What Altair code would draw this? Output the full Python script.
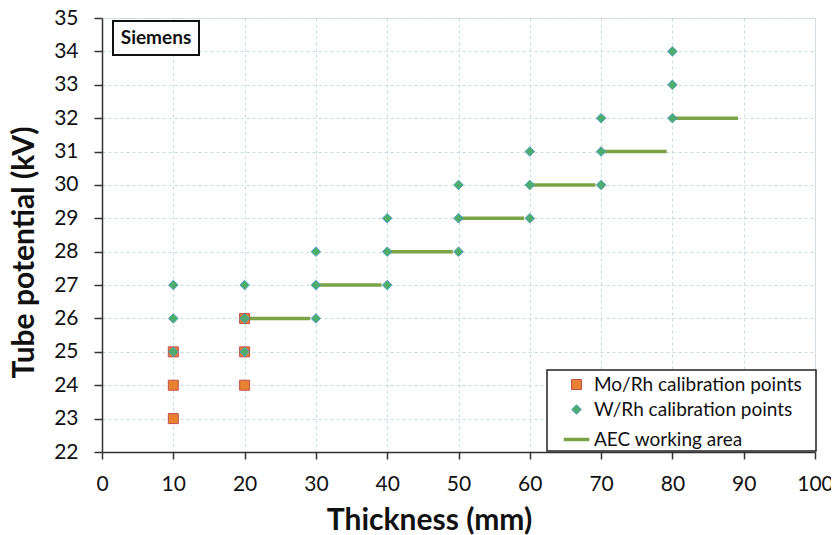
import altair as alt
import pandas as pd

mo_x = [10, 10, 10, 20, 20, 20]
mo_y = [23, 24, 25, 24, 25, 26]

w_x = [10, 10, 10, 20, 20, 20, 30, 30, 30, 40, 40, 40, 50, 50, 50, 60, 60, 60, 70, 70, 70, 80, 80, 80]
w_y = [25, 26, 27, 25, 26, 27, 26, 27, 28, 27, 28, 29, 28, 29, 30, 29, 30, 31, 30, 31, 32, 32, 33, 34]

aec_start = [20, 30, 40, 50, 60, 70, 80]
aec_end = [29.2, 39.2, 49.2, 59.2, 69.2, 79.2, 89.2]
aec_kv = [26, 27, 28, 29, 30, 31, 32]

series = ["Mo/Rh calibration points", "W/Rh calibration points", "AEC working area"]
fills = ["#E8822F", "#4DAE6C", "#7BA346"]
strokes = ["#C0504D", "#4B9CC6", "#7BA346"]
shapes = ["square", "diamond", "stroke"]
sizes = [100, 90, 650]
widths = [1, 1, 3.5]

pts = pd.DataFrame({
    "x": mo_x + w_x,
    "y": mo_y + w_y,
    "s": [series[0]] * len(mo_x) + [series[1]] * len(w_x),
})
lines = pd.DataFrame({"x": aec_start, "x2": aec_end, "y": aec_kv, "s": [series[2]] * len(aec_kv)})

FONT = "Lato"

xscale = alt.Scale(domain=[0, 100], nice=False, zero=False)
yscale = alt.Scale(domain=[22, 35], nice=False, zero=False)

xaxis = alt.Axis(title="Thickness (mm)", values=list(range(0, 101, 10)), grid=True,
                 gridDash=[3, 3], gridColor="#C9DAE3", gridWidth=1,
                 domainColor="#333333", domainWidth=1.5, tickColor="#333333", tickWidth=1.5, tickSize=7,
                 labelFont=FONT, labelFontSize=21, labelColor="#111111", labelPadding=14,
                 titleFont=FONT, titleFontSize=30, titleFontWeight="bold", titleColor="#111111",
                 titlePadding=11, titleX=327, labelFlush=False)
yaxis = alt.Axis(title="Tube potential (kV)", values=list(range(22, 36)), grid=True,
                 gridDash=[3, 3], gridColor="#C9DAE3", gridWidth=1,
                 domainColor="#333333", domainWidth=1.5, tickColor="#333333", tickWidth=1.5, tickSize=8,
                 labelFont=FONT, labelFontSize=21, labelColor="#111111", labelPadding=16,
                 titleFont=FONT, titleFontSize=30, titleFontWeight="bold", titleColor="#111111",
                 titlePadding=14, titleY=234, labelFlush=False)

color_scale = alt.Scale(domain=series, range=fills)
stroke_scale = alt.Scale(domain=series, range=strokes)
shape_scale = alt.Scale(domain=series, range=shapes)
size_scale = alt.Scale(type="ordinal", domain=series, range=sizes)
width_scale = alt.Scale(type="ordinal", domain=series, range=widths)

legend = alt.Legend(title=None, orient="none", legendX=460, legendY=357,
                    labelFont=FONT, labelFontSize=19, labelColor="#111111", labelLimit=400,
                    strokeColor="transparent", padding=0, rowPadding=5,
                    labelOffset=3)

legend_box_df = pd.DataFrame({"k": ["box"]})
legend_box = alt.Chart(legend_box_df).mark_rect(fill="white", stroke="#222222", strokeWidth=1.5).encode(
    x=alt.value(445), x2=alt.value(714), y=alt.value(352), y2=alt.value(433))

lines_layer = alt.Chart(lines).mark_rule().encode(
    x=alt.X("x:Q", scale=xscale, axis=xaxis),
    x2="x2:Q",
    y=alt.Y("y:Q", scale=yscale, axis=yaxis),
    stroke=alt.Stroke("s:N", scale=stroke_scale, legend=legend),
    strokeWidth=alt.StrokeWidth("s:N", scale=width_scale, legend=legend),
)


def point_layer(df):
    return alt.Chart(df).mark_point(filled=True, opacity=1).encode(
        x=alt.X("x:Q", scale=xscale, axis=xaxis),
        y=alt.Y("y:Q", scale=yscale, axis=yaxis),
        color=alt.Color("s:N", scale=color_scale, legend=legend),
        stroke=alt.Stroke("s:N", scale=stroke_scale, legend=legend),
        shape=alt.Shape("s:N", scale=shape_scale, legend=legend),
        size=alt.Size("s:N", scale=size_scale, legend=legend),
        strokeWidth=alt.StrokeWidth("s:N", scale=width_scale, legend=legend),
    )


mo_layer = point_layer(pts[pts.s == series[0]])
w_layer = point_layer(pts[pts.s == series[1]])

label_df = pd.DataFrame({"t": ["Siemens"]})
box = alt.Chart(label_df).mark_rect(fill="white", stroke="#111111", strokeWidth=2).encode(
    x=alt.value(11), x2=alt.value(97), y=alt.value(3), y2=alt.value(37))
label = alt.Chart(label_df).mark_text(font=FONT, fontSize=19, fontWeight="bold", color="#111111",
                                      align="center", baseline="middle").encode(
    x=alt.value(54), y=alt.value(20), text="t:N")

chart = alt.layer(legend_box, lines_layer, mo_layer, w_layer, box, label).properties(
    width=713, height=434,
    autosize=alt.AutoSizeParams(type="none"),
    padding={"left": 94, "top": 10, "right": 16, "bottom": 83},
).configure_view(stroke=None).configure(background="white")

chart.save("out.html", embed_options={"renderer": "svg", "actions": False})
